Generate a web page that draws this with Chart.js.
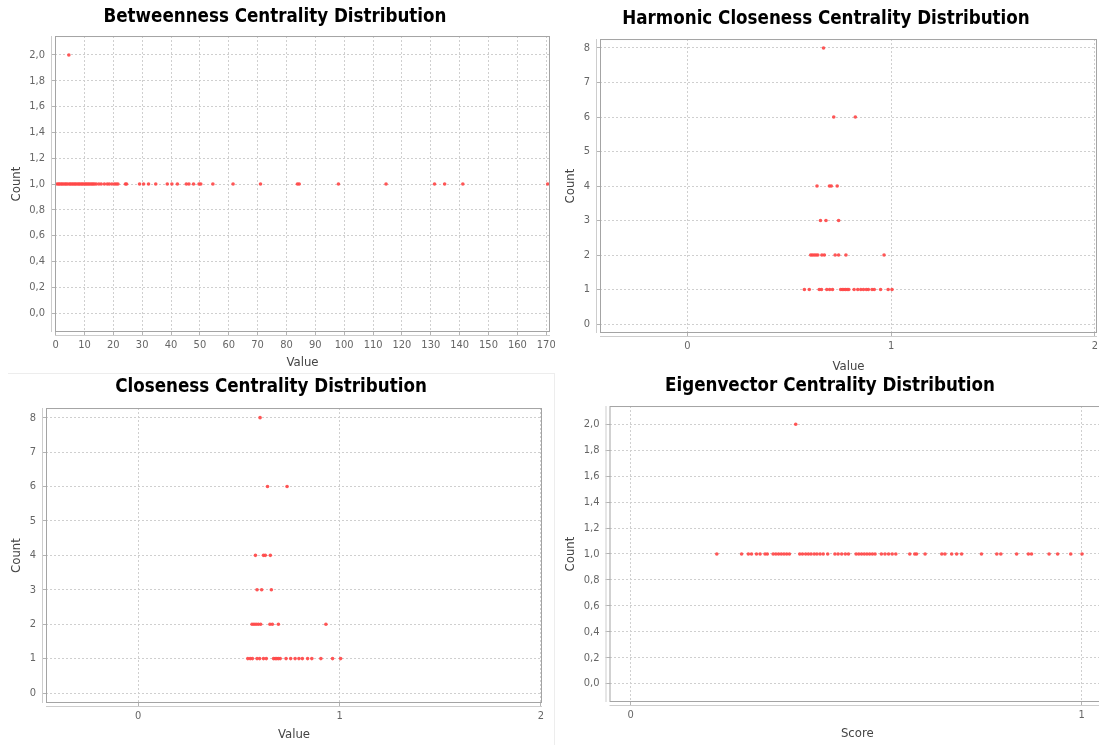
<!DOCTYPE html>
<html>
<head>
<meta charset="utf-8">
<script src="https://cdn.jsdelivr.net/npm/chart.js@4.4.1/dist/chart.umd.min.js"></script>
<style>
  html, body { margin: 0; padding: 0; background: #fff; overflow: hidden; }
  #page { position: relative; width: 1099px; height: 745px; overflow: hidden; }
  .panel { position: absolute; }
  .panel canvas { display: block; }
  .sep-h { position: absolute; left: 8px; top: 373px; width: 547px; height: 1px; background: #ededed; }
  .sep-v { position: absolute; left: 554px; top: 373px; width: 1px; height: 372px; background: #ededed; }
</style>
</head>
<body>
<div id="page">
  <div class="sep-h"></div>
  <div class="sep-v"></div>
  <div class="panel" style="left:0;top:0"><canvas id="between" width="555" height="372"></canvas></div>
  <div class="panel" style="left:555px;top:0"><canvas id="harmonic" width="550" height="374"></canvas></div>
  <div class="panel" style="left:0;top:372px"><canvas id="closeness" width="555" height="373"></canvas></div>
  <div class="panel" style="left:555px;top:372px"><canvas id="eigen" width="560" height="373"></canvas></div>
</div>
<script>
const RED = 'rgba(255,72,72,0.92)';
const TITLE_FONT = 'Tahoma, "DejaVu Sans Condensed", "DejaVu Sans", sans-serif';
const TICK_FONT = 'Tahoma, "DejaVu Sans Condensed", "DejaVu Sans", sans-serif';

// betweenness values, grouped by how many nodes share them
const betweenCount1 = [
  0.5, 1.0, 1.4, 1.9, 2.3, 2.8, 3.3, 3.7, 4.2, 4.8, 5.2, 5.7, 6.1, 6.6, 7.0, 7.5,
  8.0, 8.4, 8.9, 9.3, 9.8, 10.3, 10.7, 11.2, 11.6, 12.1, 12.6, 13.0, 13.5, 14.1,
  15.0, 15.8, 16.9, 17.9, 18.6, 19.5, 20.4, 21.0, 21.6, 24.2, 24.6, 29.1, 30.5,
  32.2, 34.7, 38.7, 40.3, 42.2, 45.3, 46.2, 47.8, 49.7, 50.3, 54.5, 61.5, 71.0,
  83.8, 84.4, 98.0, 114.5, 131.3, 134.8, 141.1, 170.5
];
const betweenCount2 = [4.6];

// harmonic closeness
const harmonicCount1 = [
  0.574, 0.598, 0.647, 0.658, 0.684, 0.698, 0.712, 0.752, 0.760, 0.768, 0.776,
  0.784, 0.792, 0.818, 0.836, 0.851, 0.864, 0.878, 0.888, 0.906, 0.917, 0.948,
  0.985, 1.004
];
const harmonicCount2 = [0.605, 0.613, 0.622, 0.631, 0.640, 0.660, 0.672, 0.725, 0.742, 0.778, 0.965];
const harmonicCount3 = [0.653, 0.680, 0.742];
const harmonicCount4 = [0.636, 0.697, 0.706, 0.735];
const harmonicCount6 = [0.718, 0.824];
const harmonicCount8 = [0.668];

// closeness
const closenessCount1 = [
  0.544, 0.556, 0.567, 0.590, 0.603, 0.622, 0.636, 0.672, 0.680, 0.688, 0.696,
  0.705, 0.734, 0.757, 0.779, 0.798, 0.815, 0.841, 0.862, 0.907, 0.965, 1.005
];
const closenessCount2 = [0.565, 0.575, 0.585, 0.596, 0.608, 0.654, 0.666, 0.696, 0.932];
const closenessCount3 = [0.590, 0.613, 0.661];
const closenessCount4 = [0.582, 0.622, 0.631, 0.656];
const closenessCount6 = [0.642, 0.739];
const closenessCount8 = [0.605];

// eigenvector scores
const eigenCount1 = [
  0.191, 0.246, 0.261, 0.268, 0.279, 0.287, 0.298, 0.303, 0.316, 0.322, 0.328,
  0.334, 0.340, 0.346, 0.352, 0.375, 0.381, 0.388, 0.394, 0.400, 0.407, 0.413,
  0.420, 0.427, 0.437, 0.453, 0.460, 0.468, 0.476, 0.483, 0.500, 0.506, 0.512,
  0.518, 0.524, 0.530, 0.536, 0.542, 0.556, 0.564, 0.572, 0.580, 0.588, 0.619,
  0.630, 0.634, 0.653, 0.690, 0.697, 0.712, 0.723, 0.734, 0.778, 0.812, 0.821,
  0.856, 0.882, 0.889, 0.928, 0.947, 0.976, 1.001
];
const eigenCount2 = [0.366];

// axis ticks
const betweenXTicks = [0, 10, 20, 30, 40, 50, 60, 70, 80, 90, 100, 110, 120, 130, 140, 150, 160, 170];
const unitXTicks = [0, 1, 2];
const scoreXTicks = [0, 1];
const fracYTicks = [0, 0.2, 0.4, 0.6, 0.8, 1.0, 1.2, 1.4, 1.6, 1.8, 2.0];
const countYTicks = [0, 1, 2, 3, 4, 5, 6, 7, 8];

const toPoints = groups => groups.flatMap(([count, xs]) => xs.map(x => ({ x, y: count })));
const comma = v => v.toFixed(1).replace('.', ',');

// plot outline plus the offset axis lines
const framePlugin = {
  id: 'frame',
  afterDraw(chart) {
    const { ctx, chartArea: a } = chart;
    ctx.save();
    ctx.lineWidth = 1;
    ctx.strokeStyle = '#a4a4a4';
    ctx.strokeRect(a.left + 0.5, a.top + 0.5, a.right - a.left - 1, a.bottom - a.top - 1);
    ctx.strokeStyle = '#cdcdcd';
    ctx.beginPath();
    ctx.moveTo(a.left, a.bottom + 3.5); ctx.lineTo(a.right, a.bottom + 3.5);
    ctx.moveTo(a.left - 3.5, a.top); ctx.lineTo(a.left - 3.5, a.bottom);
    ctx.stroke();
    ctx.restore();
  },
};

function axis(o) {
  return {
    type: 'linear',
    min: o.min, max: o.max,
    afterBuildTicks: s => { s.ticks = o.ticks.map(v => ({ value: v })); },
    afterFit: s => {
      if (o.width != null) s.width = o.width;
      if (o.height != null) { s.height = o.height; s.paddingLeft = 0; s.paddingRight = 0; }
    },
    grid: { color: '#cfcfcf', lineWidth: 1, drawTicks: true, tickLength: 4, tickColor: '#b4b4b4', tickBorderDash: [] },
    border: { display: false, dash: [2, 2] },
    ticks: {
      autoSkip: false, maxRotation: 0, padding: o.tickPad,
      color: '#666', font: { family: TICK_FONT, size: 11 },
      callback: o.fmt || (v => String(v)),
    },
    title: {
      display: true, text: o.title, color: '#444',
      font: { family: TICK_FONT, size: 13 },
      padding: o.titlePad,
    },
  };
}

function makeChart(id, o) {
  return new Chart(document.getElementById(id), {
    type: 'scatter',
    data: {
      datasets: [{
        data: o.points, backgroundColor: RED, borderWidth: 0,
        pointRadius: 1.8, pointHoverRadius: 1.8,
      }],
    },
    options: {
      responsive: false, animation: false, events: [],
      layout: { padding: { left: 0, right: o.padRight, top: 0, bottom: 0 } },
      plugins: {
        legend: { display: false }, tooltip: { enabled: false },
        title: {
          display: true, text: o.title, color: '#000',
          font: { family: TITLE_FONT, size: 18.6, weight: 'bold', lineHeight: 1.2 },
          padding: { top: o.titleTop, bottom: o.titleBottom },
        },
      },
      scales: { x: axis(o.x), y: axis(o.y) },
    },
    plugins: [framePlugin],
  });
}

makeChart('between', {
  title: 'Betweenness Centrality Distribution', titleTop: 5.6, titleBottom: 8.1, padRight: 5,
  points: toPoints([[1, betweenCount1], [2, betweenCount2]]),
  x: { min: -0.2, max: 171.3, ticks: betweenXTicks, height: 40, tickPad: 3, title: 'Value', titlePad: { top: 0, bottom: 1.5 } },
  y: { min: -0.147, max: 2.147, ticks: fracYTicks, width: 55, tickPad: 6, fmt: comma, title: 'Count', titlePad: { top: 8.5, bottom: 0 } },
});

makeChart('harmonic', {
  title: 'Harmonic Closeness Centrality Distribution', titleTop: 7.6, titleBottom: 9.1, padRight: 8,
  points: toPoints([[1, harmonicCount1], [2, harmonicCount2], [3, harmonicCount3],
    [4, harmonicCount4], [6, harmonicCount6], [8, harmonicCount8]]),
  x: { min: -0.429, max: 2.01, ticks: unitXTicks, height: 41, tickPad: 3, title: 'Value', titlePad: { top: 0, bottom: 0 } },
  y: { min: -0.26, max: 8.26, ticks: countYTicks, width: 45, tickPad: 6, title: 'Count', titlePad: { top: 8, bottom: 0 } },
});

makeChart('closeness', {
  title: 'Closeness Centrality Distribution', titleTop: 3.8, titleBottom: 9.9, padRight: 13,
  points: toPoints([[1, closenessCount1], [2, closenessCount2], [3, closenessCount3],
    [4, closenessCount4], [6, closenessCount6], [8, closenessCount8]]),
  x: { min: -0.458, max: 2.005, ticks: unitXTicks, height: 42, tickPad: 3, title: 'Value', titlePad: { top: 0, bottom: 3 } },
  y: { min: -0.29, max: 8.28, ticks: countYTicks, width: 46, tickPad: 6, title: 'Count', titlePad: { top: 9, bottom: 0 } },
});

makeChart('eigen', {
  title: 'Eigenvector Centrality Distribution', titleTop: 2.8, titleBottom: 8.9, padRight: 10,
  points: toPoints([[1, eigenCount1], [2, eigenCount2]]),
  x: { min: -0.047, max: 1.052, ticks: scoreXTicks, height: 43, tickPad: 3, title: 'Score', titlePad: { top: 0, bottom: 4 } },
  y: { min: -0.142, max: 2.141, ticks: fracYTicks, width: 54.5, tickPad: 6, fmt: comma, title: 'Count', titlePad: { top: 8, bottom: 0 } },
});
</script>
</body>
</html>
